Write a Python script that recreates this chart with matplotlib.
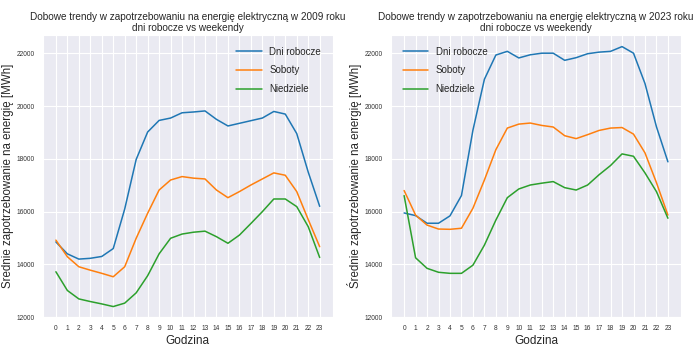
import numpy as np
import matplotlib
matplotlib.use('Agg')
import matplotlib.pyplot as plt
import seaborn as sns

sns.set_style('darkgrid')
plt.rcParams['font.family'] = ['Liberation Sans', 'DejaVu Sans']

hours = list(range(24))
series_names = ['Dni robocze', 'Soboty', 'Niedziele']

# 2009
work_2009 = [14850, 14400, 14200, 14230, 14300, 14600, 16100, 17980, 19020, 19460,
             19550, 19750, 19780, 19820, 19500, 19250, 19350, 19450, 19550, 19800,
             19700, 18960, 17500, 16200]
sat_2009 = [14920, 14290, 13910, 13780, 13660, 13530, 13910, 14990, 15940, 16820,
            17200, 17330, 17270, 17240, 16820, 16530, 16760, 17010, 17240, 17470,
            17380, 16760, 15700, 14670]
sun_2009 = [13720, 13010, 12690, 12590, 12500, 12400, 12530, 12920, 13570, 14400,
            14990, 15150, 15220, 15260, 15050, 14800, 15110, 15550, 16000, 16480,
            16480, 16190, 15430, 14260]

# 2023
work_2023 = [15950, 15850, 15560, 15560, 15840, 16610, 19090, 21020, 21940, 22080,
             21830, 21950, 22010, 22010, 21740, 21840, 21990, 22050, 22080, 22260,
             22010, 20860, 19220, 17890]
sat_2023 = [16800, 15870, 15490, 15340, 15330, 15370, 16130, 17200, 18350, 19170,
            19320, 19360, 19270, 19210, 18880, 18770, 18920, 19080, 19170, 19190,
            18940, 18230, 17100, 15870]
sun_2023 = [16610, 14250, 13850, 13700, 13660, 13660, 13970, 14730, 15680, 16530,
            16860, 17010, 17080, 17140, 16910, 16820, 17010, 17400, 17750, 18190,
            18100, 17470, 16760, 15750]

colors = ['#1f77b4', '#ff7f0e', '#2ca02c']

fig, axes = plt.subplots(1, 2, figsize=(7, 3.5), dpi=100, sharey=True)
fig.subplots_adjust(left=0.061, right=0.973, bottom=0.094, top=0.9, wspace=0.2)

panels = [
    (axes[0], '2009', [work_2009, sat_2009, sun_2009], 'upper right'),
    (axes[1], '2023', [work_2023, sat_2023, sun_2023], 'upper left'),
]

for ax, year, data, loc in panels:
    for name, vals, c in zip(series_names, data, colors):
        ax.plot(hours, vals, color=c, linewidth=1.1, label=name)
    ax.set_title('Dobowe trendy w zapotrzebowaniu na energię elektryczną w %s roku\n'
                 'dni robocze vs weekendy' % year, fontsize=7.2, linespacing=1.15, pad=3)
    ax.set_xticks(hours)
    ax.set_yticks([12000, 14000, 16000, 18000, 20000, 22000])
    ax.set_ylim(12000, 22700)
    ax.tick_params(axis='both', labelsize=4.8, pad=2.5, colors='#333333')
    ax.set_xlabel('Godzina', fontsize=8.5, labelpad=2)
    ax.set_ylabel('Średnie zapotrzebowanie na energię [MWh]', fontsize=8.3, labelpad=1.5)
    ax.yaxis.set_tick_params(labelleft=True)
    leg = ax.legend(loc=loc, fontsize=7, frameon=False, handlelength=2.6,
                    labelspacing=0.9, borderaxespad=0.8)

fig.savefig('out.png', dpi=100)
